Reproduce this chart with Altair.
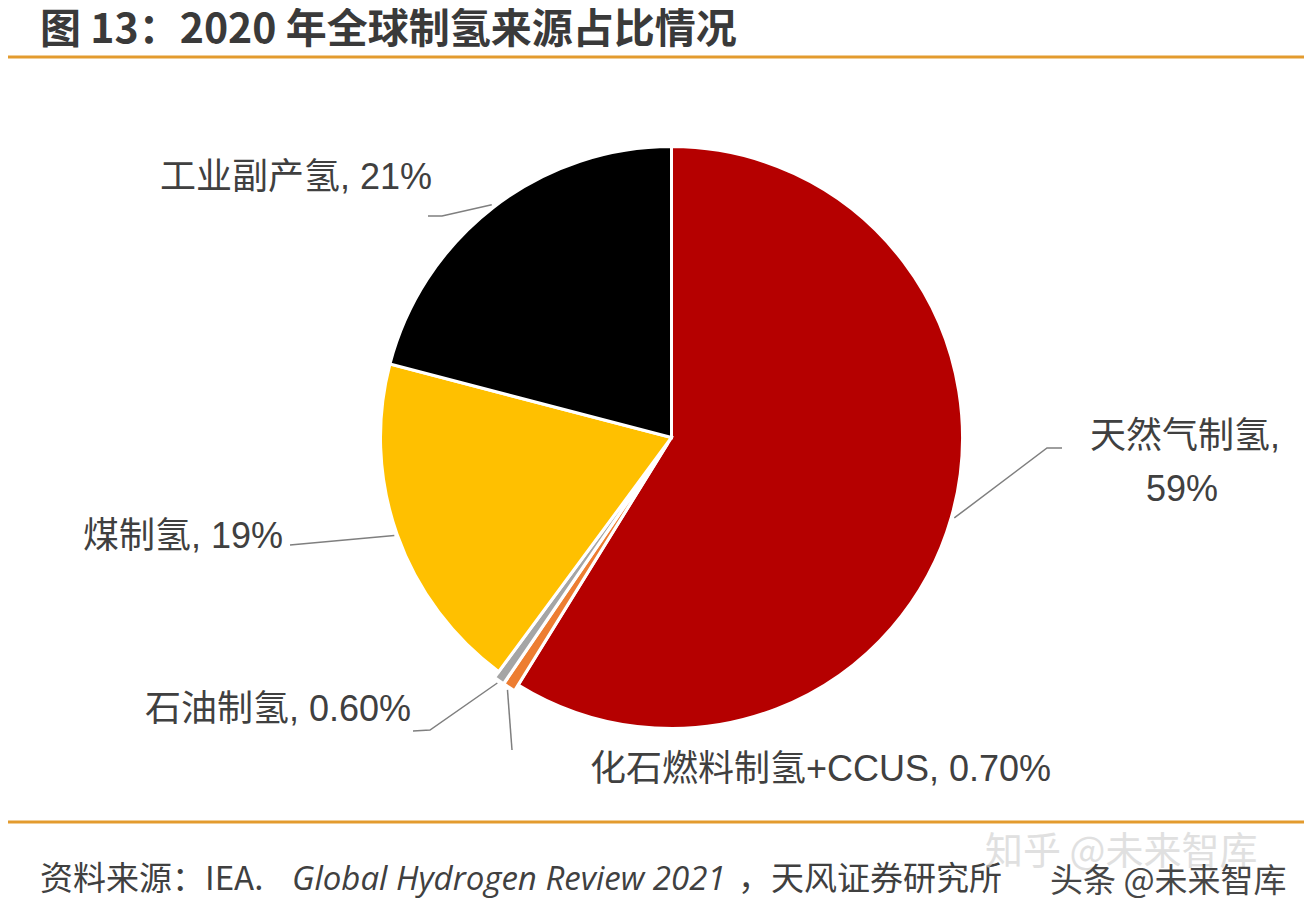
import math
import altair as alt
import pandas as pd

# ---- data ----
sources = ["天然气制氢", "化石燃料制氢+CCUS", "石油制氢", "煤制氢", "工业副产氢"]
shares = [59, 0.7, 0.6, 19, 21]
share_labels = ["59%", "0.70%", "0.60%", "19%", "21%"]
colors = ["#B50000", "#ED7D31", "#A5A5A5", "#FFC000", "#000000"]

title_text = "图 13：2020 年全球制氢来源占比情况"
src_a = "资料来源：IEA."
src_b = "Global Hydrogen Review 2021"
src_c = "，天风证券研究所"

# ---- layout (page pixel coords, chart origin at page 8,8) ----
W, H = 1296, 906
def px(x): return x - 8
CX, CY, R = px(671.5), px(437.5), 291
EXPLODE = 7

df = pd.DataFrame({"source": sources, "share": shares, "order": list(range(len(sources)))})

pie = alt.Chart(df).transform_window(
    cum="sum(share)", sort=[alt.SortField("order")], frame=[None, 0]
).transform_joinaggregate(
    total="sum(share)"
).transform_calculate(
    t1="(datum.cum - datum.share) / datum.total * 2 * PI",
    t2="datum.cum / datum.total * 2 * PI",
).transform_calculate(
    cx=f"{CX} + (datum.share < 1 ? {EXPLODE} : 0) * sin((datum.t1 + datum.t2) / 2)",
    cy=f"{CY} - (datum.share < 1 ? {EXPLODE} : 0) * cos((datum.t1 + datum.t2) / 2)",
).mark_arc(outerRadius=R, stroke="white", strokeWidth=3).encode(
    theta=alt.Theta("t1:Q", scale=None),
    theta2="t2:Q",
    x=alt.X("cx:Q", scale=None),
    y=alt.Y("cy:Q", scale=None),
    color=alt.Color("source:N", scale=alt.Scale(domain=sources, range=colors), legend=None),
)

# leader line start points computed from slice geometry
total = sum(shares)
starts = {}
cum = 0
for s, v in zip(sources, shares):
    mid = (cum + v / 2) / total * 2 * math.pi
    cum += v
    r = R + 3 + (EXPLODE if v < 1 else 0)
    starts[s] = (CX + r * math.sin(mid), CY - r * math.cos(mid))

leader_paths = {
    "天然气制氢": [(1047, 448), (1062, 448)],
    "化石燃料制氢+CCUS": [(512, 750)],
    "石油制氢": [(430, 730), (413, 731)],
    "煤制氢": [(290, 545)],
    "工业副产氢": [(442, 216), (428, 216)],
}
rows = []
for s in sources:
    pts = [starts[s]] + [(px(a), px(b)) for a, b in leader_paths[s]]
    for i, (a, b) in enumerate(pts):
        rows.append({"src": s, "i": i, "lx": a, "ly": b})
leaders = alt.Chart(pd.DataFrame(rows)).mark_line(color="#7f7f7f", strokeWidth=1.5).encode(
    x=alt.X("lx:Q", scale=None), y=alt.Y("ly:Q", scale=None),
    detail="src:N", order="i:Q",
)

one = alt.Data(values=[{"a": 1}])
LFONT = "Liberation Sans, Noto Sans CJK SC"
LCOL = "#404040"
LS = 36

def txt(text, x, y, size, align="left", font=LFONT, color=LCOL, weight="normal", style="normal", opacity=1):
    return alt.Chart(one).mark_text(
        align=align, baseline="middle", font=font, fontSize=size, color=color,
        fontWeight=weight, fontStyle=style, opacity=opacity,
    ).encode(x=alt.value(px(x)), y=alt.value(px(y)), text=alt.value(text))

labels = [
    txt(f"{sources[4]}, {share_labels[4]}", 160, 178, LS),
    txt(f"{sources[0]},", 1090, 437, LS),
    txt(share_labels[0], 1182, 490, LS, align="center"),
    txt(f"{sources[3]}, {share_labels[3]}", 83, 537, LS),
    txt(f"{sources[2]}, {share_labels[2]}", 145, 710, LS),
    txt(f"{sources[1]}, {share_labels[1]}", 590, 770, LS),
]

def hline(y, color="#E39B2E"):
    return alt.Chart(one).mark_rule(color=color, strokeWidth=3).encode(
        x=alt.value(0), x2=alt.value(W), y=alt.value(px(y))
    )

title = txt(title_text, 40, 31, 41, font="Noto Sans CJK SC", color="#3a3a3a", weight="bold")
src1 = txt(src_a, 40, 880, 33, font="Noto Sans CJK SC", color="#404040")
src2 = txt(src_b, 292, 880, 33, font="Open Sans", color="#404040", style="italic")
src3 = txt(src_c, 738, 880, 33, font="Noto Sans CJK SC", color="#404040")
wm1 = txt("知乎 @未来智库", 985, 853, 38, font="Noto Sans CJK SC", color="#d4d4d4", opacity=0.7)
wm2 = txt("头条 @未来智库", 1050, 882, 33, font="Noto Sans CJK SC", color="#333333", opacity=0.9)

chart = alt.layer(
    pie, leaders, *labels, hline(57), hline(822), title, src1, src2, src3, wm1, wm2
).properties(
    width=W, height=H, autosize=alt.AutoSizeParams(type="none"), padding=0
).configure_view(stroke=None)

chart.save("out.html", embed_options={"renderer": "svg", "actions": False})
